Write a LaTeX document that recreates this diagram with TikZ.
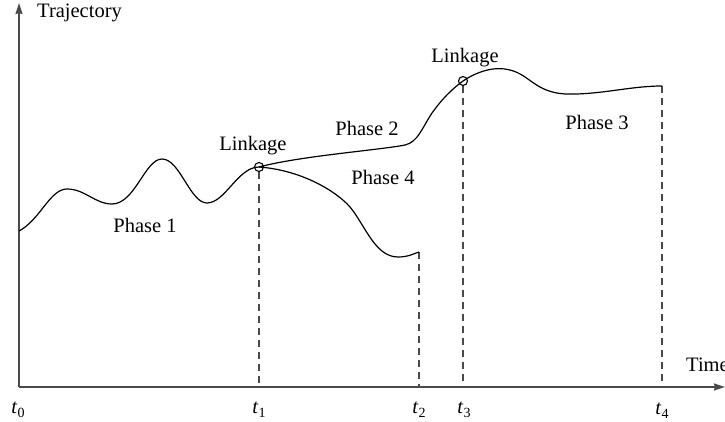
\documentclass[tikz,border=0pt]{standalone}
\usepackage{fontspec}
\setmainfont{Liberation Serif}
\usetikzlibrary{arrows.meta}
\definecolor{axisgray}{HTML}{4A4A4A}
\newcommand{\tlab}[1]{\textit{t}\kern0.3pt\raisebox{-0.45ex}{\fontsize{14}{14}\selectfont #1}}
\tikzset{
  axisline/.style={draw=axisgray, line width=1.8pt, -{Stealth[length=11pt,width=7pt,inset=1pt]}},
  curveline/.style={draw=black, line width=1.2pt},
  dashline/.style={draw=axisgray, line width=1.2pt, dash pattern=on 7pt off 5pt},
  linkcirc/.style={circle, draw=black, line width=1.1pt, minimum size=9pt, inner sep=0pt},
  lbl/.style={font=\fontsize{20.5}{24}\selectfont, inner sep=0pt},
}
\begin{document}
\begin{tikzpicture}[x=1pt,y=-1pt]
\useasboundingbox (0,0) rectangle (725,422);
% axes
\coordinate (O) at (19,387);
\coordinate (Ytop) at (19,3);
\coordinate (Xend) at (725,387);
\draw[axisline] (O) -- (Ytop);
\draw[axisline] (O) -- (Xend);
\node[lbl, anchor=west] (traj) at (37,13) {Trajectory};
\node[lbl, anchor=west] (time) at (686,365) {Time};
% time marks on axis
\coordinate (T1) at (259,387);
\coordinate (T2) at (419,387);
\coordinate (T3) at (463,387);
\coordinate (T4) at (662,387);
% curve points
\coordinate (S) at (19,231);
\coordinate (E4) at (419,252);
\coordinate (E3) at (662,86);
% dashed verticals
\draw[dashline] (259,172) -- (T1);
\draw[dashline] (E4) -- (T2);
\draw[dashline] (463,86) -- (T3);
\draw[dashline] (E3) -- (T4);
% Phase 1
\draw[curveline] (S) .. controls (40,220) and (50,189) .. (67,189)
  .. controls (85,189) and (95,204) .. (112,204)
  .. controls (135,204) and (145,159) .. (162,159)
  .. controls (180,159) and (190,203) .. (207,203)
  .. controls (225,203) and (238,167) .. (259,167);
% Phase 4
\draw[curveline] (259,167) .. controls (300,170) and (335,190) .. (350,207)
  .. controls (365,225) and (375,257) .. (398,257)
  .. controls (408,257) and (413,254) .. (E4);
% Phase 2
\draw[curveline] (259,167) .. controls (300,156) and (380,150) .. (405,145)
  .. controls (418,142) and (422,128) .. (432,113)
  .. controls (442,99) and (452,89) .. (463,81);
% Phase 3
\draw[curveline] (463,81) .. controls (478,71) and (495,66) .. (510,70)
  .. controls (530,75) and (535,92) .. (565,94)
  .. controls (600,95) and (630,86) .. (E3);
% linkage circles
\node[linkcirc] (L1) at (259,167) {};
\node[linkcirc] (L2) at (463,81) {};
% labels
\node[lbl] (link1) at (253,146) {Linkage};
\node[lbl] (link2) at (465,58) {Linkage};
\node[lbl] (ph1) at (145,225) {Phase 1};
\node[lbl] (ph2) at (367,128) {Phase 2};
\node[lbl] (ph4) at (383,177) {Phase 4};
\node[lbl] (ph3) at (597,122) {Phase 3};
\node[lbl] (t0) at (18,410) {\tlab{0}};
\node[lbl] (t1) at (259,410) {\tlab{1}};
\node[lbl] (t2) at (419,410) {\tlab{2}};
\node[lbl] (t3) at (464,410) {\tlab{3}};
\node[lbl] (t4) at (662,411) {\tlab{4}};
\end{tikzpicture}
\end{document}
